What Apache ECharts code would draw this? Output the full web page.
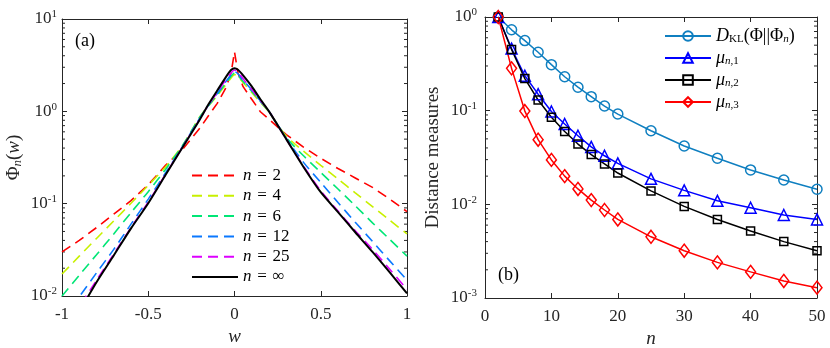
<!DOCTYPE html>
<html>
<head>
<meta charset="utf-8">
<script src="https://cdn.jsdelivr.net/npm/echarts@6/dist/echarts.min.js"></script>
<style>
html, body { margin: 0; padding: 0; background: #fff; }
#chart { width: 830px; height: 348px; }
</style>
</head>
<body>
<div id="chart"></div>
<script>
// panel (a): Phi_n(w)
const wGrid = [-1, -0.9, -0.8, -0.7, -0.6, -0.5, -0.4, -0.3, -0.2, -0.15, -0.1, -0.05, -0.02, 0,
  0.02, 0.05, 0.1, 0.15, 0.2, 0.3, 0.4, 0.5, 0.6, 0.7, 0.8, 0.9, 1]
const phi2 = [0.030, 0.040, 0.055, 0.077, 0.108, 0.16, 0.26, 0.39, 0.66, 0.9, 1.22, 1.8, 2.6, 4.4,
  2.6, 1.85, 1.35, 0.99, 0.82, 0.56, 0.41, 0.31, 0.24, 0.19, 0.15, 0.112, 0.082]
const phi4 = [0.0173, 0.027, 0.042, 0.065, 0.101, 0.158, 0.25, 0.43, 0.88, 1.15, 1.48, 1.95, 2.3, 2.5,
  2.35, 2.05, 1.6, 1.25, 0.98, 0.54, 0.37, 0.26, 0.185, 0.131, 0.093, 0.066, 0.047]
const phi6 = [0.0100, 0.0168, 0.028, 0.047, 0.080, 0.135, 0.235, 0.43, 0.87, 1.16, 1.52, 2.02, 2.4, 2.6,
  2.45, 2.1, 1.65, 1.28, 0.99, 0.52, 0.33, 0.218, 0.144, 0.095, 0.062, 0.041, 0.027]
const phi12 = [0.0055, 0.0098, 0.0178, 0.032, 0.060, 0.112, 0.215, 0.42, 0.85, 1.17, 1.56, 2.1, 2.5, 2.7,
  2.55, 2.18, 1.7, 1.3, 1.0, 0.51, 0.28, 0.17, 0.103, 0.063, 0.039, 0.024, 0.0149]
const phi25 = [0.0043, 0.0077, 0.0148, 0.0285, 0.055, 0.104, 0.207, 0.415, 0.83, 1.18, 1.6, 2.2, 2.6, 2.8,
  2.68, 2.25, 1.72, 1.31, 1.0, 0.5, 0.255, 0.138, 0.083, 0.051, 0.032, 0.0195, 0.0118]
const phiInf = [0.0035, 0.0068, 0.0141, 0.0275, 0.054, 0.101, 0.204, 0.41, 0.82, 1.2, 1.68, 2.35, 2.8, 2.93,
  2.82, 2.45, 1.86, 1.35, 1.0, 0.5, 0.25, 0.133, 0.081, 0.049, 0.030, 0.018, 0.0107]
const nLabels = ['2', '4', '6', '12', '25', '\u221e']

// panel (b): distance measures vs n
const nVals = [2, 4, 6, 8, 10, 12, 14, 16, 18, 20, 25, 30, 35, 40, 45, 50]
const dkl = [1.0, 0.73, 0.56, 0.42, 0.31, 0.23, 0.178, 0.141, 0.112, 0.092, 0.061, 0.042, 0.031, 0.0233, 0.0182, 0.0145]
const mu1 = [1.0, 0.46, 0.236, 0.15, 0.098, 0.072, 0.054, 0.041, 0.033, 0.0274, 0.0187, 0.0141, 0.0109, 0.0092, 0.0077, 0.0069]
const mu2 = [1.0, 0.45, 0.22, 0.13, 0.085, 0.060, 0.044, 0.034, 0.027, 0.0216, 0.0139, 0.0095, 0.0069, 0.0052, 0.0040, 0.0032]
const mu3 = [1.0, 0.283, 0.099, 0.049, 0.0298, 0.020, 0.0146, 0.0111, 0.0087, 0.0069, 0.0045, 0.0032, 0.0024, 0.0019, 0.00152, 0.00129]

const FONT = '"Liberation Serif", "Times New Roman", serif'
const AX = '#262626'

const pairs = (xs, ys) => xs.map((x, i) => [x, ys[i]])

function logLabel(v) {
  const e = Math.round(Math.log10(v))
  return '{b|10}{e|' + e + '}'
}
const logRich = {
  b: { fontFamily: FONT, fontSize: 17, color: AX, lineHeight: 20 },
  e: { fontFamily: FONT, fontSize: 11, color: AX, lineHeight: 11, verticalAlign: 'top' }
}

function minorVals(lo, hi) {
  const out = []
  for (let m = lo; m < hi; m++) {
    for (let k = 2; k <= 9; k++) out.push(k * Math.pow(10, m))
  }
  return out
}

// small inward ticks at 2..9 x 10^m on both vertical edges of a grid
function minorTicks(grid, xMin, xMax, vals) {
  return {
    type: 'custom',
    xAxisIndex: grid * 2,
    yAxisIndex: grid * 2,
    silent: true,
    z: 1,
    encode: { x: 0, y: 1 },
    data: vals.map(v => [xMin, v]),
    renderItem(params, api) {
      const v = api.value(1)
      const a = api.coord([xMin, v])
      const b = api.coord([xMax, v])
      const st = { stroke: AX, lineWidth: 1 }
      return {
        type: 'group',
        children: [
          { type: 'line', shape: { x1: a[0], y1: a[1], x2: a[0] + 3, y2: a[1] }, style: st },
          { type: 'line', shape: { x1: b[0], y1: b[1], x2: b[0] - 3, y2: b[1] }, style: st }
        ]
      }
    }
  }
}

const tick = { inside: true, length: 5, lineStyle: { color: AX } }
const line = { show: true, onZero: false, lineStyle: { color: AX, width: 1 } }
const lab = { fontFamily: FONT, fontSize: 17, color: AX }

const leftColors = ['#ff0000', '#c8f000', '#00e676', '#0a78ff', '#dd00ff', '#000000']
const leftData = [phi2, phi4, phi6, phi12, phi25, phiInf]
const leftNames = nLabels.map(s => 'n=' + s)

const leftSeries = leftData.map((d, i) => ({
  type: 'line',
  name: leftNames[i],
  xAxisIndex: 0,
  yAxisIndex: 0,
  data: pairs(wGrid, d),
  symbol: 'none',
  smooth: i === 0 ? false : 0.25,
  z: i === 5 ? 4 : 3,
  lineStyle: {
    color: leftColors[i],
    width: i === 5 ? 2 : 1.6,
    type: i === 5 ? 'solid' : [10, 6]
  },
  itemStyle: { color: leftColors[i] }
}))

const rightDefs = [
  { name: 'dkl', data: dkl, color: '#0f7fc0', symbol: 'circle', size: 10 },
  { name: 'mu1', data: mu1, color: '#0000ff', symbol: 'triangle', size: 11 },
  { name: 'mu2', data: mu2, color: '#000000', symbol: 'rect', size: 8 },
  { name: 'mu3', data: mu3, color: '#ff0000', symbol: 'diamond', size: [10, 13] }
]
const rightSeries = rightDefs.map(s => ({
  type: 'line',
  name: s.name,
  xAxisIndex: 2,
  yAxisIndex: 2,
  data: pairs(nVals, s.data),
  symbol: s.symbol,
  symbolSize: s.size,
  z: 3,
  lineStyle: { color: s.color, width: 1.5 },
  itemStyle: { color: 'rgba(255,255,255,0)', borderColor: s.color, borderWidth: 1.5 }
}))

const rightLegendText = {
  dkl: '{i|D}{sub|KL}{r|(\u03a6||\u03a6}{isub|n}{r|)}',
  mu1: '{i|\u03bc}{isub|n}{sub|,1}',
  mu2: '{i|\u03bc}{isub|n}{sub|,2}',
  mu3: '{i|\u03bc}{isub|n}{sub|,3}'
}
const subRich = {
  r: { fontFamily: FONT, fontSize: 18, color: '#000', lineHeight: 18 },
  i: { fontFamily: FONT, fontSize: 18, fontStyle: 'italic', color: '#000', lineHeight: 18 },
  sub: { fontFamily: FONT, fontSize: 11, color: '#000', lineHeight: 11, verticalAlign: 'bottom' },
  isub: { fontFamily: FONT, fontSize: 11, fontStyle: 'italic', color: '#000', lineHeight: 11, verticalAlign: 'bottom' }
}

const option = {
  animation: false,
  backgroundColor: '#fff',
  title: [
    { text: '(a)', left: 75, top: 32, padding: 0, textStyle: { fontFamily: FONT, fontSize: 18, fontWeight: 'normal', color: '#000' } },
    { text: '(b)', left: 498, top: 266, padding: 0, textStyle: { fontFamily: FONT, fontSize: 18, fontWeight: 'normal', color: '#000' } }
  ],
  grid: [
    { left: 62, top: 19, width: 345, height: 277, outerBoundsMode: 'none' },
    { left: 485, top: 17, width: 332, height: 281, outerBoundsMode: 'none' }
  ],
  legend: [
    {
      data: leftNames,
      orient: 'vertical',
      left: 191,
      top: 167,
      padding: 0,
      itemWidth: 46,
      itemHeight: 10,
      itemGap: 3.3,
      itemStyle: { opacity: 0 },
      formatter: name => '{i|n}{r|\u2004=\u2004' + name.slice(2) + '}',
      textStyle: { rich: {
        r: { fontFamily: FONT, fontSize: 17, color: '#000', lineHeight: 16 },
        i: { fontFamily: FONT, fontSize: 17, fontStyle: 'italic', color: '#000', lineHeight: 16 }
      } }
    },
    {
      data: ['dkl', 'mu1', 'mu2', 'mu3'],
      orient: 'vertical',
      left: 664,
      top: 27,
      padding: 0,
      itemWidth: 46,
      itemHeight: 12,
      itemGap: 4,
      formatter: name => rightLegendText[name],
      textStyle: { rich: subRich }
    }
  ],
  xAxis: [
    {
      type: 'value', gridIndex: 0, min: -1, max: 1, interval: 0.5,
      axisLine: line, axisTick: tick, splitLine: { show: false },
      axisLabel: Object.assign({ margin: 10 }, lab),
      name: 'w', nameLocation: 'middle', nameGap: 21,
      nameTextStyle: { fontFamily: FONT, fontSize: 19, fontStyle: 'italic', color: AX }
    },
    {
      type: 'value', gridIndex: 0, min: -1, max: 1, interval: 0.5, position: 'top',
      axisLine: line, axisTick: tick, axisLabel: { show: false }, splitLine: { show: false }
    },
    {
      type: 'value', gridIndex: 1, min: 0, max: 50, interval: 10,
      axisLine: line, axisTick: tick, splitLine: { show: false },
      axisLabel: Object.assign({ margin: 10 }, lab),
      name: 'n', nameLocation: 'middle', nameGap: 18,
      nameTextStyle: { fontFamily: FONT, fontSize: 19, fontStyle: 'italic', color: AX }
    },
    {
      type: 'value', gridIndex: 1, min: 0, max: 50, interval: 10, position: 'top',
      axisLine: line, axisTick: tick, axisLabel: { show: false }, splitLine: { show: false }
    }
  ],
  yAxis: [
    {
      type: 'log', logBase: 10, gridIndex: 0, min: 0.01, max: 10,
      axisLine: line, axisTick: tick, splitLine: { show: false },
      axisLabel: { margin: 5, formatter: logLabel, rich: logRich },
      name: '{a|\u03a6}{s|n}{a|(}{i|w}{a|)}', nameLocation: 'middle', nameGap: 38,
      nameTextStyle: { rich: {
        a: { fontFamily: FONT, fontSize: 19, color: AX, lineHeight: 20 },
        i: { fontFamily: FONT, fontSize: 19, fontStyle: 'italic', color: AX, lineHeight: 20 },
        s: { fontFamily: FONT, fontSize: 13, fontStyle: 'italic', color: AX, lineHeight: 13, verticalAlign: 'bottom' }
      } }
    },
    {
      type: 'log', logBase: 10, gridIndex: 0, min: 0.01, max: 10, position: 'right',
      axisLine: line, axisTick: tick, axisLabel: { show: false }, splitLine: { show: false }
    },
    {
      type: 'log', logBase: 10, gridIndex: 1, min: 0.001, max: 1,
      axisLine: line, axisTick: tick, splitLine: { show: false },
      axisLabel: { margin: 8, formatter: logLabel, rich: logRich },
      name: 'Distance measures', nameLocation: 'middle', nameGap: 42,
      nameTextStyle: { fontFamily: FONT, fontSize: 19, color: AX }
    },
    {
      type: 'log', logBase: 10, gridIndex: 1, min: 0.001, max: 1, position: 'right',
      axisLine: line, axisTick: tick, axisLabel: { show: false }, splitLine: { show: false }
    }
  ],
  series: [
    minorTicks(0, -1, 1, minorVals(-2, 1)),
    minorTicks(1, 0, 50, minorVals(-3, 0))
  ].concat(leftSeries, rightSeries)
}

const chart = echarts.init(document.getElementById('chart'))
chart.setOption(option)
</script>
</body>
</html>
